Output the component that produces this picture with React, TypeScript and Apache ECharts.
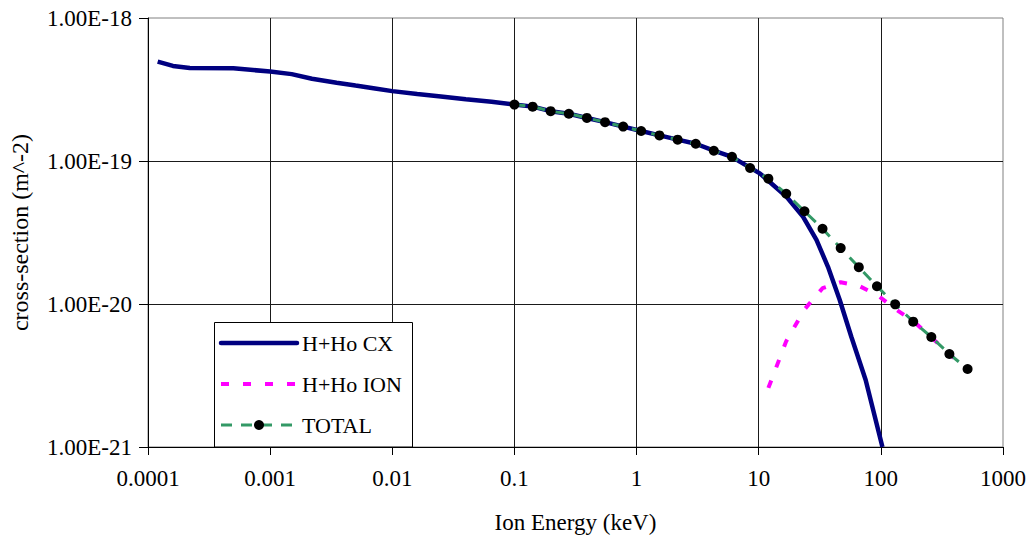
import React, { useEffect, useRef } from "react";
import * as echarts from "echarts";

// ---- Data ----
const xTickLabels = ["0.0001", "0.001", "0.01", "0.1", "1", "10", "100", "1000"];
const yTickLabels = ["1.00E-21", "1.00E-20", "1.00E-19", "1.00E-18"];
const X_MIN = 0.0001;
const X_MAX = 1000;
const Y_MIN = 1e-21; // m^-2
const Y_MAX = 1e-18; // m^-2

const cxEnergy = [
  1.2e-4, 1.6e-4, 2.2e-4, 5e-4, 1e-3, 1.5e-3, 2.2e-3, 3.5e-3, 5e-3, 7e-3, 0.01, 0.016, 0.025,
  0.04, 0.065, 0.1, 0.141, 0.198, 0.279, 0.392, 0.552, 0.777, 1.09, 1.54, 2.17, 3.05, 4.29,
  6.04, 7.0, 10.2, 16.9, 23.1, 29.7, 36.9, 46, 57.3, 75.1, 103,
];
const cxValue = [
  4.95e-19, 4.62e-19, 4.47e-19, 4.45e-19, 4.22e-19, 4.05e-19, 3.76e-19, 3.53e-19, 3.37e-19,
  3.23e-19, 3.08e-19, 2.94e-19, 2.83e-19, 2.7e-19, 2.6e-19, 2.48e-19, 2.4e-19, 2.23e-19,
  2.14e-19, 2.0e-19, 1.87e-19, 1.74e-19, 1.62e-19, 1.51e-19, 1.41e-19, 1.32e-19, 1.18e-19,
  1.07e-19, 9.9e-20, 8.2e-20, 5.62e-20, 4.07e-20, 2.81e-20, 1.82e-20, 1.07e-20, 5.9e-21,
  2.94e-21, 1.0e-21,
];

const ionEnergy = [12.0, 16.8, 23.7, 33.3, 46.9, 66, 92.9, 131, 184, 259, 364, 513];
const ionValue = [
  2.59e-21, 5.5e-21, 9.16e-21, 1.29e-20, 1.42e-20, 1.34e-20, 1.16e-20, 9.23e-21, 7.6e-21,
  5.85e-21, 4.45e-21, 3.5e-21,
];

const totalEnergy = [
  0.1, 0.141, 0.198, 0.279, 0.392, 0.552, 0.777, 1.09, 1.54, 2.17, 3.05, 4.29, 6.04, 8.5, 12.0,
  16.8, 23.7, 33.3, 46.9, 66, 92.9, 131, 184, 259, 364, 513,
];
const totalValue = [
  2.48e-19, 2.4e-19, 2.23e-19, 2.14e-19, 2.0e-19, 1.87e-19, 1.74e-19, 1.62e-19, 1.51e-19,
  1.41e-19, 1.32e-19, 1.18e-19, 1.07e-19, 8.93e-20, 7.52e-20, 5.9e-20, 4.45e-20, 3.36e-20,
  2.46e-20, 1.81e-20, 1.33e-20, 9.95e-21, 7.52e-21, 5.88e-21, 4.47e-21, 3.51e-21,
];

const seriesNames = ["H+Ho CX", "H+Ho ION", "TOTAL"];
const xAxisTitle = "Ion Energy (keV)";
const yAxisTitle = "cross-section (m^-2)";

// ECharts' log scale rounds extremely small numbers (1e-21) to 0, so the y axis
// works internally in units of 1e-21 m^-2; the tick labels still read in m^-2.
const Y_UNIT = 1e-21;

const FONT = "'Liberation Serif', 'Times New Roman', Times, serif";

const CX_COLOR = "#000080";
const ION_COLOR = "#ff00ff";
const TOTAL_COLOR = "#339966";
const ION_DASH = [8, 14];
const TOTAL_DASH = [11, 9];

const pairs = (xs: number[], ys: number[]) => xs.map((x, i) => [x, ys[i] / Y_UNIT]);

const xMinExp = Math.round(Math.log10(X_MIN));
const yMinExp = Math.round(Math.log10(Y_MIN / Y_UNIT));

const xLabel = (v: number, i: number) => {
  if (i >= xTickLabels.length) return "";
  const e = v > 0 ? Math.round(Math.log10(v)) : xMinExp;
  return xTickLabels[e - xMinExp] ?? "";
};
const yLabel = (v: number, i: number) => {
  if (i >= yTickLabels.length) return "";
  const e = v > 0 ? Math.round(Math.log10(v)) : yMinExp;
  return yTickLabels[e - yMinExp] ?? "";
};

export default function App() {
  const ref = useRef<HTMLDivElement>(null);

  useEffect(() => {
    if (!ref.current) return;
    const chart = echarts.init(ref.current, null, { renderer: "svg" });

    const legendLeft = 214;
    const legendTop = 322;
    const rowY = [343, 384, 425];
    const lineX1 = 221;
    const lineX2 = 297;
    const textX = 302;

    chart.setOption({
      animation: false,
      backgroundColor: "#ffffff",
      textStyle: { fontFamily: FONT, color: "#000" },
      grid: {
        left: 148,
        right: 27,
        top: 18,
        bottom: 97,
        show: true,
        borderColor: "#808080",
        borderWidth: 1,
        backgroundColor: "#ffffff",
        containLabel: false,
        outerBoundsMode: "none",
      },
      xAxis: {
        type: "log",
        logBase: 10,
        min: X_MIN,
        max: X_MAX,
        splitNumber: 7,
        name: xAxisTitle,
        nameLocation: "middle",
        nameGap: 64,
        nameTextStyle: { fontFamily: FONT, fontSize: 23, color: "#000" },
        axisLine: { show: true, onZero: false, lineStyle: { color: "#000", width: 1 } },
        axisTick: { show: true, inside: false, length: 8, lineStyle: { color: "#000" } },
        minorTick: { show: false },
        axisLabel: {
          fontFamily: FONT,
          fontSize: 23,
          color: "#000",
          margin: 20,
          formatter: xLabel,
        },
        splitLine: {
          show: true,
          showMaxLine: false,
          lineStyle: { color: "#1a1a1a", width: 1 },
        },
      },
      yAxis: {
        type: "log",
        logBase: 10,
        min: Y_MIN / Y_UNIT,
        max: Y_MAX / Y_UNIT,
        splitNumber: 3,
        axisLine: { show: true, lineStyle: { color: "#000", width: 1 } },
        axisTick: { show: true, inside: false, length: 9, lineStyle: { color: "#000" } },
        minorTick: { show: false },
        axisLabel: {
          fontFamily: FONT,
          fontSize: 23,
          color: "#000",
          margin: 16,
          showMinLabel: true,
          formatter: yLabel,
        },
        splitLine: {
          show: true,
          showMaxLine: false,
          lineStyle: { color: "#1a1a1a", width: 1 },
        },
      },
      graphic: [
        {
          type: "text",
          x: 20,
          y: 232.5,
          rotation: Math.PI / 2,
          style: {
            text: yAxisTitle,
            fontFamily: FONT,
            fontSize: 24,
            fill: "#000",
            align: "center",
            verticalAlign: "middle",
          },
          z: 100,
        },
        {
          type: "rect",
          shape: { x: legendLeft + 0.5, y: legendTop + 0.5, width: 198, height: 124.5 },
          style: { fill: "#ffffff", stroke: "#000000", lineWidth: 1 },
          z: 100,
        },
        {
          type: "line",
          shape: { x1: lineX1, y1: rowY[0], x2: lineX2, y2: rowY[0] },
          style: { stroke: CX_COLOR, lineWidth: 4.5, lineCap: "round" },
          z: 101,
        },
        {
          type: "line",
          shape: { x1: lineX1, y1: rowY[1], x2: lineX2, y2: rowY[1] },
          style: { stroke: ION_COLOR, lineWidth: 4, lineDash: ION_DASH },
          z: 101,
        },
        {
          type: "line",
          shape: { x1: lineX1, y1: rowY[2], x2: lineX2, y2: rowY[2] },
          style: { stroke: TOTAL_COLOR, lineWidth: 3, lineDash: TOTAL_DASH },
          z: 101,
        },
        {
          type: "circle",
          shape: { cx: (lineX1 + lineX2) / 2, cy: rowY[2], r: 5 },
          style: { fill: "#000000" },
          z: 102,
        },
        ...seriesNames.map((name, i) => ({
          type: "text",
          x: textX,
          y: rowY[i],
          style: {
            text: name,
            fontFamily: FONT,
            fontSize: 22,
            fill: "#000",
            align: "left",
            verticalAlign: "middle",
          },
          z: 102,
        })),
      ],
      series: [
        {
          name: seriesNames[0],
          type: "line",
          data: pairs(cxEnergy, cxValue),
          symbol: "none",
          smooth: false,
          clip: true,
          color: CX_COLOR,
          lineStyle: { color: CX_COLOR, width: 4.5 },
        },
        {
          name: seriesNames[1],
          type: "line",
          data: pairs(ionEnergy, ionValue),
          symbol: "none",
          clip: true,
          color: ION_COLOR,
          lineStyle: { color: ION_COLOR, width: 4, type: ION_DASH },
        },
        {
          name: seriesNames[2],
          type: "line",
          data: pairs(totalEnergy, totalValue),
          symbol: "circle",
          symbolSize: 10,
          showSymbol: true,
          clip: true,
          color: TOTAL_COLOR,
          itemStyle: { color: "#000000", borderWidth: 0 },
          lineStyle: { color: TOTAL_COLOR, width: 3, type: TOTAL_DASH },
        },
      ],
    });
    return () => chart.dispose();
  }, []);

  return (
    <div
      ref={ref}
      style={{ position: "fixed", left: 0, top: 0, width: 1030, height: 544, background: "#fff" }}
    />
  );
}
